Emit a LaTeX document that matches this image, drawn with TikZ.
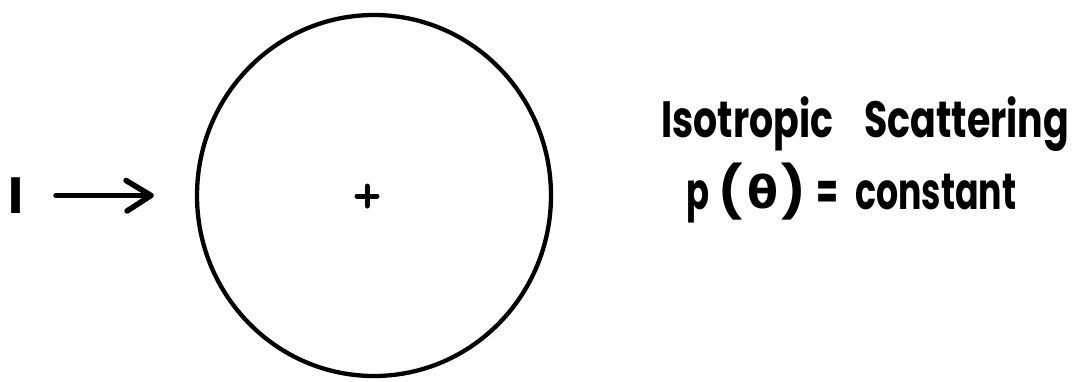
\documentclass[tikz,border=0pt]{standalone}
\usepackage{fontspec}
\setmainfont{Poppins}[UprightFont=* Bold]
\newfontfamily\greekfont{DejaVu Sans Bold}
\newcommand{\fitw}[2]{\resizebox{#1}{\height}{#2}}
\begin{document}
\begin{tikzpicture}[x=1pt,y=-1pt,
  lbl/.style={inner sep=0pt, anchor=base west, font=\fontsize{51}{52}\selectfont},
  heavy/.style={line width=5.5pt, line cap=round, line join=round}]
\useasboundingbox (0,0) rectangle (1074,381);
\node[lbl, anchor=base] (I) at (16,213) {I};
\coordinate (a0) at (56,195.5);
\coordinate (a1) at (151,195.5);
\draw[heavy] (a0) -- (a1);
\draw[heavy] (126,180.5) -- (a1) -- (127,211);
\draw[line width=4.3pt] (374,195.5) ellipse [x radius=177, y radius=180.5];
\node[inner sep=0pt] (c) at (367,196) {};
\draw[line width=5pt, line cap=round] (c.center) ++(-10,0) -- ++(20,0) (c.center) ++(0,-10) -- ++(0,20);
\node[lbl] (t1a) at (661,137.5) {\fitw{172pt}{Isotropic}};
\node[lbl] (t1b) at (864,137.5) {\fitw{205pt}{Scattering}};
\node[lbl] (p) at (686,209) {\fitw{23pt}{p}};
\node[lbl] (lp) at (718,209) {(};
\node[lbl, anchor=base, font=\fontsize{45}{45}\greekfont] (th) at (763,208) {θ};
\node[lbl] (rp) at (781,209) {)};
\node[lbl] (eq) at (816,209) {\fitw{22pt}{=}};
\node[lbl] (const) at (855,209) {\fitw{161pt}{constant}};
\end{tikzpicture}
\end{document}
